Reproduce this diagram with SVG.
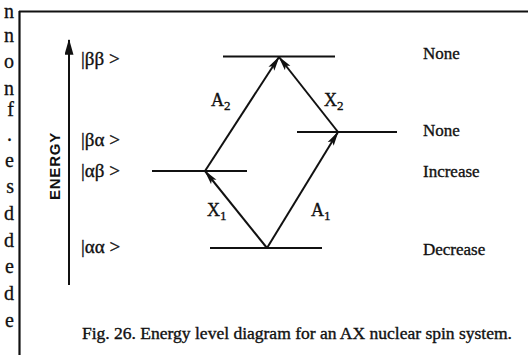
<svg xmlns="http://www.w3.org/2000/svg" width="528" height="355" viewBox="0 0 528 355">
<style>
.t{font-family:"Liberation Serif","Times New Roman",serif;fill:#111;stroke:#111;stroke-width:0.35}
.lv{stroke:#111;stroke-width:2;fill:none}
.tr{stroke:#111;stroke-width:2;fill:none;marker-end:url(#ah)}
.frag{font-family:"Liberation Serif",serif;font-size:20px;fill:#111;stroke:#111;stroke-width:0.3;text-anchor:end}
</style>
<defs>
<marker id="ah" viewBox="0 0 15 8" refX="14" refY="4" markerWidth="15" markerHeight="8" markerUnits="userSpaceOnUse" orient="auto">
<path d="M0,0.5 L15,4 L0,7.5 L3,4 Z" fill="#111"/>
</marker>
<marker id="eh" viewBox="0 0 14 8" refX="13" refY="4" markerWidth="16" markerHeight="9" markerUnits="userSpaceOnUse" orient="auto">
<path d="M0,0 L14,4 L0,8 Z" fill="#111"/>
</marker>
</defs>

<g id="margin-text">
<text class="frag" x="14" y="18" font-size="17">n</text>
<text class="frag" x="14" y="42">n</text>
<text class="frag" x="14" y="68">o</text>
<text class="frag" x="14" y="95">n</text>
<text class="frag" x="14" y="116">f</text>
<text class="frag" x="12" y="141">.</text>
<text class="frag" x="14" y="167">e</text>
<text class="frag" x="14" y="193">s</text>
<text class="frag" x="14" y="220">d</text>
<text class="frag" x="14" y="247">d</text>
<text class="frag" x="14" y="273">e</text>
<text class="frag" x="14" y="300">d</text>
<text class="frag" x="14" y="327">e</text>
</g>

<g id="frame">
<line x1="19" y1="11.5" x2="528" y2="11.5" stroke="#111" stroke-width="2.2"/>
<line x1="19.5" y1="11" x2="19.5" y2="355" stroke="#111" stroke-width="2.2"/>
</g>

<g id="energy-axis">
<line x1="69" y1="285" x2="69" y2="40" stroke="#111" stroke-width="2" marker-end="url(#eh)"/>
<text transform="translate(60,166) rotate(-90)" text-anchor="middle" font-family="'Liberation Sans',Arial,sans-serif" font-weight="bold" font-size="15" letter-spacing="0.8" fill="#111">ENERGY</text>
</g>

<g id="level-bb">
<line class="lv" x1="223" y1="56.5" x2="335" y2="56.5"/>
<text class="t" x="81" y="65" font-size="19">|ββ &gt;</text>
<text class="t" x="423" y="59" font-size="17">None</text>
</g>
<g id="level-ba">
<line class="lv" x1="297" y1="132" x2="397" y2="132"/>
<text class="t" x="81" y="146" font-size="19">|βα &gt;</text>
<text class="t" x="423" y="136" font-size="17">None</text>
</g>
<g id="level-ab">
<line class="lv" x1="152" y1="171" x2="247" y2="171"/>
<text class="t" x="81" y="177" font-size="19">|αβ &gt;</text>
<text class="t" x="423" y="177" font-size="17">Increase</text>
</g>
<g id="level-aa">
<line class="lv" x1="210" y1="248" x2="322" y2="248"/>
<text class="t" x="81" y="253" font-size="19">|αα &gt;</text>
<text class="t" x="423" y="255" font-size="17">Decrease</text>
</g>

<g id="connectors">
<line class="tr" x1="205" y1="171" x2="279" y2="57"/>
<line class="tr" x1="338" y1="132" x2="279" y2="57"/>
<line class="tr" x1="267" y1="248" x2="205" y2="171"/>
<line class="tr" x1="267" y1="248" x2="338" y2="132"/>
</g>

<g id="transition-labels">
<text class="t" x="211" y="106" font-size="18">A<tspan font-size="13" dy="4">2</tspan></text>
<text class="t" x="324" y="106" font-size="18">X<tspan font-size="13" dy="4">2</tspan></text>
<text class="t" x="207" y="216" font-size="18">X<tspan font-size="13" dy="4">1</tspan></text>
<text class="t" x="311" y="216" font-size="18">A<tspan font-size="13" dy="4">1</tspan></text>
</g>

<text class="t" x="82" y="339" font-size="16" textLength="430" lengthAdjust="spacingAndGlyphs">Fig. 26. Energy level diagram for an AX nuclear spin system.</text>
</svg>
